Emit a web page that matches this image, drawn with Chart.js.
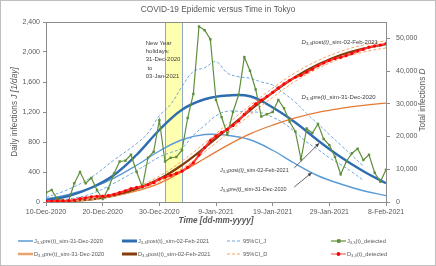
<!DOCTYPE html>
<html><head><meta charset="utf-8">
<script src="https://cdn.jsdelivr.net/npm/chart.js@4.4.1/dist/chart.umd.min.js"></script>
<style>html,body{margin:0;padding:0;background:#fff;}#wrap{width:436px;height:266px;position:relative;}</style>
</head><body><div id="wrap"><canvas id="c" width="436" height="266"></canvas></div>
<script>
// ---------- data ----------
const tickLabels = ['10-Dec-2020','20-Dec-2020','30-Dec-2020','9-Jan-2021','19-Jan-2021','29-Jan-2021','8-Feb-2021'];
const leftTicks  = [0,400,800,1200,1600,2000,2400];
const rightTicks = [0,10000,20000,30000,40000,50000];
const detectedDays = Array.from({length:61},(_,i)=>i);
const jDetected = [124,160,40,20,20,250,400,250,320,160,
  40,180,380,540,550,630,400,200,590,670,
  1090,540,590,600,690,1120,1440,2340,2290,2170,
  1360,1130,900,1200,1430,1930,1750,1500,1140,1170,
  1200,1360,1250,1070,940,570,980,920,1040,840,
  760,600,370,540,650,710,560,630,390,270,430];
const dDetected = [124,284,324,344,364,614,1014,1264,1584,1744,
  1784,1964,2344,2884,3434,4064,4464,4664,5254,5924,
  7014,7554,8144,8744,9434,10554,11994,14334,16624,18794,
  20154,21284,22184,23384,24814,26744,28494,29994,31134,32304,
  33504,34864,36114,37184,38124,38694,39674,40594,41634,42474,
  43234,43834,44204,44744,45394,46104,46664,47294,47684,47954,48384];
const modelDays = [0,4,8,12,16,20,24,28,32,36,40,44,48,52,56,60];
const jPre  = [40,100,190,320,490,680,830,900,890,830,690,510,350,240,150,85];
const jPost = [25,80,190,360,630,960,1230,1370,1420,1410,1260,1060,820,600,410,250];
const dPre  = [0,250,800,1800,3400,5700,9300,13300,17300,20800,23500,25700,27400,28600,29500,30200];
const dPost = [0,250,800,2000,4000,7000,11300,16600,22300,28000,33400,38200,42000,44900,46900,48200];
const ciDUpper = [0,300,950,2300,4600,7900,12500,18000,23800,29500,34800,39500,43200,46000,48000,49300];
const ciDLower = [0,200,650,1700,3500,6200,10200,15300,20900,26600,32000,36900,40800,43800,45800,47100];
const ciJDays  = [0,4,8,12,16,18,20,22,24,26,28,30,32,34,36,38,40,42,44,46,48,50,52,54,56];
const ciJUpper = [60,170,330,560,780,920,1150,1300,1540,1740,1790,1870,1720,1670,1650,1600,1560,1450,1330,1180,1040,900,760,620,480];
const ciJLower = [10,40,110,250,420,510,600,660,720,890,1020,1150,1210,1210,1200,1190,1130,1050,930,800,700,590,500,400,290];
const holidayStart = 21, holidayEnd = 24;

// ---------- helpers ----------
const pts = (xs, ys) => xs.map((x,i)=>({x, y: ys[i]}));
const FONT = '"Liberation Sans", Arial, sans-serif';
const GRAY = '#595959';
const AX = '#8C8C8C';

function drawRich(ctx, x, y, segs, size, color, align){
  const parts = segs.map(([t,st])=>{
    st = st || '';
    const sub = st.includes('s');
    const s = sub ? size*0.72 : size;
    const font = (st.includes('i')?'italic ':'') + (st.includes('b')?'bold ':'') + s + 'px ' + FONT;
    ctx.font = font;
    return {t, font, w: ctx.measureText(t).width, dy: sub ? size*0.28 : 0};
  });
  const total = parts.reduce((a,p)=>a+p.w,0);
  let cx = align==='center' ? x-total/2 : align==='right' ? x-total : x;
  ctx.fillStyle = color; ctx.textBaseline = 'middle'; ctx.textAlign = 'left';
  for(const p of parts){ ctx.font = p.font; ctx.fillText(p.t, cx, y+p.dy); cx += p.w; }
}
function arrow(ctx, x1,y1,x2,y2){
  ctx.save(); ctx.strokeStyle='#404040'; ctx.fillStyle='#404040'; ctx.lineWidth=0.8;
  ctx.beginPath(); ctx.moveTo(x1,y1); ctx.lineTo(x2,y2); ctx.stroke();
  const a = Math.atan2(y2-y1,x2-x1), L=4, W=1.8;
  ctx.beginPath(); ctx.moveTo(x2,y2);
  ctx.lineTo(x2-L*Math.cos(a)+W*Math.sin(a), y2-L*Math.sin(a)-W*Math.cos(a));
  ctx.lineTo(x2-L*Math.cos(a)-W*Math.sin(a), y2-L*Math.sin(a)+W*Math.cos(a));
  ctx.closePath(); ctx.fill(); ctx.restore();
}

const legendItems = [
  {col:0,row:0,segs:[['J'],['3,3','s'],['pre(t)_sim-31-Dec-2020']],color:'#5B9BD5',w:1.5},
  {col:1,row:0,segs:[['J'],['3,3','s'],['post(t)_sim-02-Feb-2021']],color:'#2E6DB0',w:3},
  {col:2,row:0,segs:[['95%CI_J']],color:'#6FA8DC',w:1.2,dash:[3,2]},
  {col:3,row:0,segs:[['J'],['3,3','s'],['(t)_detected']],color:'#5F8F3B',w:1.2,marker:'rect'},
  {col:0,row:1,segs:[['D'],['3,3','s'],['pre(t)_sim-31-Dec-2020']],color:'#E9A36A',w:2.5},
  {col:1,row:1,segs:[['D'],['3,3','s'],['post(t)_sim-02-Feb-2021']],color:'#843C0C',w:3},
  {col:2,row:1,segs:[['95%CI_D']],color:'#F4A460',w:1.2,dash:[3,2]},
  {col:3,row:1,segs:[['D'],['3,3','s'],['(t)_detected']],color:'#FF8080',w:1.5,marker:'circle',mcolor:'#FF0000'},
];
const legendX = [18,122,227,331], legendY = [241,254];

const extras = {
  id:'extras',
  beforeDatasetsDraw(chart){
    const {ctx, chartArea:a, scales:{x}} = chart;
    const x1 = x.getPixelForValue(holidayStart), x2 = x.getPixelForValue(holidayEnd);
    ctx.save();
    ctx.fillStyle = '#FFFFB0';
    ctx.fillRect(x1, a.top, x2-x1, a.bottom-a.top);
    ctx.strokeStyle = '#8EA9C8'; ctx.lineWidth = 1;
    ctx.beginPath(); ctx.moveTo(Math.round(x1)+0.5,a.top); ctx.lineTo(Math.round(x1)+0.5,a.bottom);
    ctx.moveTo(Math.round(x2)+0.5,a.top); ctx.lineTo(Math.round(x2)+0.5,a.bottom); ctx.stroke();
    ctx.restore();
  },
  afterDraw(chart){
    const {ctx, chartArea:a, scales:{x,y,y2}} = chart;
    ctx.save();
    ctx.strokeStyle = AX; ctx.lineWidth = 1;
    ctx.beginPath(); ctx.moveTo(a.left, Math.round(a.top)+0.5); ctx.lineTo(a.right, Math.round(a.top)+0.5); ctx.stroke();
    ctx.strokeStyle = '#BFBFBF';
    ctx.strokeRect(0.5,0.5,435,265);
    ctx.fillStyle = GRAY; ctx.font = '8.3px ' + FONT; ctx.textAlign='center'; ctx.textBaseline='middle';
    ctx.fillText('COVID-19 Epidemic versus Time in Tokyo', 218, 10);
    drawRich(ctx, 216, 221, [['Time [dd-mm-yyyy]','bi']], 8.2, GRAY, 'center');
    ctx.save(); ctx.translate(15, 112); ctx.rotate(-Math.PI/2);
    drawRich(ctx, 0, 0, [['Daily infections '],['J [1/day]','i']], 8.3, GRAY, 'center');
    ctx.restore();
    ctx.save(); ctx.translate(423, 100); ctx.rotate(-Math.PI/2);
    drawRich(ctx, 0, 0, [['Total infections '],['D','i']], 8.3, GRAY, 'center');
    ctx.restore();
    const hx = x.getPixelForValue(17.6), hy = y.getPixelForValue(2120);
    ['New Year','holidays:','31-Dec-2020',' to','03-Jan-2021'].forEach((t,i)=>{
      drawRich(ctx, hx, hy + i*8.3, [[t]], 6, '#404040', 'left');
    });
    drawRich(ctx, x.getPixelForValue(45.1), y2.getPixelForValue(48890),
      [['D','i'],['3,3','s'],['post'],['(t)','i'],['_sim-02-Feb-2021']], 6, '#404040','left');
    drawRich(ctx, x.getPixelForValue(45.1), y2.getPixelForValue(32080),
      [['D','i'],['3,3','s'],['pre'],['(t)','i'],['_sim-31-Dec-2020']], 6, '#404040','left');
    drawRich(ctx, x.getPixelForValue(30.7), y.getPixelForValue(417),
      [['J','i'],['3,3','s'],['post'],['(t)','i'],['_sim-02-Feb-2021']], 5.5, '#404040','left');
    drawRich(ctx, x.getPixelForValue(30.7), y.getPixelForValue(169),
      [['J','i'],['3,3','s'],['pre'],['(t)','i'],['_sim-31-Dec-2020']], 5.5, '#404040','left');
    arrow(ctx, x.getPixelForValue(43.8), y.getPixelForValue(453), x.getPixelForValue(48.2), y.getPixelForValue(783));
    arrow(ctx, x.getPixelForValue(43.8), y.getPixelForValue(200), x.getPixelForValue(46.9), y.getPixelForValue(391));
    for(const it of legendItems){
      const lx = legendX[it.col], ly = legendY[it.row];
      ctx.save();
      ctx.strokeStyle = it.color; ctx.lineWidth = it.w; ctx.setLineDash(it.dash||[]);
      ctx.beginPath(); ctx.moveTo(lx, ly); ctx.lineTo(lx+15, ly); ctx.stroke();
      ctx.setLineDash([]);
      if(it.marker==='rect'){ ctx.fillStyle = it.color; ctx.fillRect(lx+6, ly-1.8, 3.6, 3.6); }
      if(it.marker==='circle'){ ctx.fillStyle = it.mcolor; ctx.beginPath(); ctx.arc(lx+7.5, ly, 1.9, 0, Math.PI*2); ctx.fill(); }
      ctx.restore();
      drawRich(ctx, lx+16, ly, it.segs, 5.7, GRAY, 'left');
    }
    ctx.restore();
  }
};

const tickFont = {family: FONT, size: 7};
const ds = [
  {label:'D detected', data: pts(detectedDays, dDetected), yAxisID:'y2', borderColor:'#FF3B3B', borderWidth:2,
   pointRadius:1.6, pointStyle:'circle', pointBackgroundColor:'#FF0000', pointBorderWidth:0, tension:0},
  {label:'J detected', data: pts(detectedDays, jDetected), yAxisID:'y', borderColor:'#5F8F3B', borderWidth:1.2,
   pointRadius:1.7, pointStyle:'rect', pointBackgroundColor:'#5F8F3B', pointBorderWidth:0, tension:0},
  {label:'CI D upper', data: pts(modelDays, ciDUpper), yAxisID:'y2', borderColor:'#F4A460', borderWidth:1, borderDash:[3,2], pointRadius:0, tension:0.4},
  {label:'CI D lower', data: pts(modelDays, ciDLower), yAxisID:'y2', borderColor:'#F4A460', borderWidth:1, borderDash:[3,2], pointRadius:0, tension:0.4},
  {label:'D post', data: pts(modelDays, dPost), yAxisID:'y2', borderColor:'#843C0C', borderWidth:2.2, pointRadius:0, tension:0.4},
  {label:'D pre', data: pts(modelDays, dPre), yAxisID:'y2', borderColor:'#E57A35', borderWidth:1.3, pointRadius:0, tension:0.4},
  {label:'J post', data: pts(modelDays, jPost), yAxisID:'y', borderColor:'#2E6DB0', borderWidth:2.4, pointRadius:0, tension:0.4},
  {label:'J pre', data: pts(modelDays, jPre), yAxisID:'y', borderColor:'#5B9BD5', borderWidth:1.4, pointRadius:0, tension:0.4},
  {label:'CI J upper', data: pts(ciJDays, ciJUpper), yAxisID:'y', borderColor:'#6FA8DC', borderWidth:1, borderDash:[3,2], pointRadius:0, tension:0.4},
  {label:'CI J lower', data: pts(ciJDays, ciJLower), yAxisID:'y', borderColor:'#6FA8DC', borderWidth:1, borderDash:[3,2], pointRadius:0, tension:0.4},
];

new Chart(document.getElementById('c'), {
  type:'line',
  data:{datasets: ds},
  plugins:[extras],
  options:{
    responsive:false, animation:false, devicePixelRatio:1,
    layout:{padding:{top:22, bottom:36, left:0, right:0}},
    plugins:{legend:{display:false}, title:{display:false}, tooltip:{enabled:false}},
    scales:{
      x:{type:'linear', min:0, max:60,
        afterBuildTicks:s=>{s.ticks = tickLabels.map((_,i)=>({value:i*10}));},
        afterFit:s=>{s.height=28;},
        ticks:{autoSkip:false, maxRotation:0, color:GRAY, font:tickFont, padding:2,
          callback:v=>tickLabels[Math.round(v/10)] ?? ''},
        grid:{drawOnChartArea:false, drawTicks:true, tickLength:4, color:AX},
        border:{color:AX}},
      y:{type:'linear', position:'left', min:0, max:2400,
        afterBuildTicks:s=>{s.ticks = leftTicks.map(v=>({value:v}));},
        afterFit:s=>{s.width=46;},
        ticks:{color:GRAY, font:tickFont, padding:3, callback:v=>v.toLocaleString('en-US')},
        grid:{drawOnChartArea:false, drawTicks:true, tickLength:3, color:AX},
        border:{color:AX}},
      y2:{type:'linear', position:'right', min:0, max:55000,
        afterBuildTicks:s=>{s.ticks = rightTicks.map(v=>({value:v}));},
        afterFit:s=>{s.width=50;},
        ticks:{color:GRAY, font:tickFont, padding:6, callback:v=>v.toLocaleString('en-US')},
        grid:{drawOnChartArea:false, drawTicks:true, tickLength:4, color:AX},
        border:{color:AX}}
    }
  }
});
</script></body></html>
